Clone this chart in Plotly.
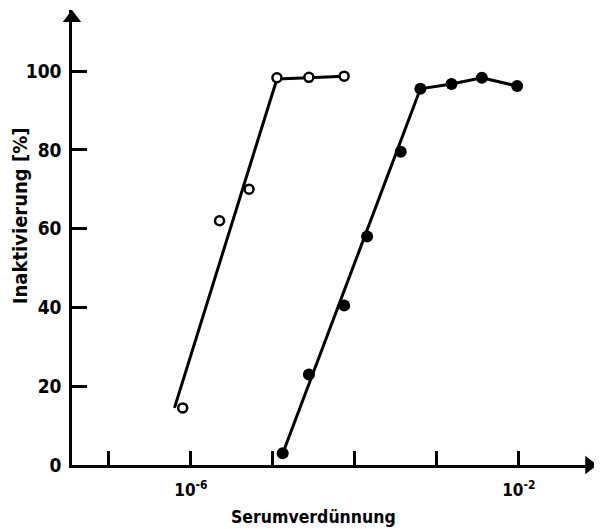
import plotly.graph_objects as go

# Open circles series (log10 dilution, % inactivation)
open_logx = [-6.10, -5.65, -5.29, -4.95, -4.56, -4.13]
open_y = [14.5, 62, 70, 98.3, 98.4, 98.7]
open_line_logx = [-6.20, -4.95, -4.56, -4.13]
open_line_y = [14.5, 98.0, 98.3, 98.7]

# Filled circles series
fill_logx = [-4.88, -4.56, -4.13, -3.85, -3.44, -3.20, -2.82, -2.45, -2.02]
fill_y = [3, 23, 40.5, 58, 79.5, 95.5, 96.7, 98.3, 96.2]
fill_line_logx = [-4.86, -3.20, -2.82, -2.45, -2.02]
fill_line_y = [4, 95.5, 96.7, 98.3, 96.2]

y_ticks = [0, 20, 40, 60, 80, 100]
x_label_exp = [-6, -2]
x_label_text = ["10<sup>-6</sup>", "10<sup>-2</sup>"]
x_minor_exp = [-7, -5, -4, -3]

x_title = "Serumverdünnung"
y_title = "Inaktivierung [%]"

FONT = "DejaVu Sans Condensed, DejaVu Sans, sans-serif"

def p(v):
    return [10 ** e for e in v]

xmin, xmax = -7.45, -1.07
ymin, ymax = 0, 115.5

fig = go.Figure()
fig.add_trace(go.Scatter(x=p(open_line_logx), y=open_line_y, mode="lines",
                         line=dict(color="black", width=3), cliponaxis=False,
                         showlegend=False, hoverinfo="skip"))
fig.add_trace(go.Scatter(x=p(open_logx), y=open_y, mode="markers",
                         marker=dict(symbol="circle", size=9, color="white",
                                     line=dict(color="black", width=2.5)),
                         cliponaxis=False, showlegend=False))
fig.add_trace(go.Scatter(x=p(fill_line_logx), y=fill_line_y, mode="lines",
                         line=dict(color="black", width=3), cliponaxis=False,
                         showlegend=False, hoverinfo="skip"))
fig.add_trace(go.Scatter(x=p(fill_logx), y=fill_y, mode="markers",
                         marker=dict(symbol="circle", size=12, color="black"),
                         cliponaxis=False, showlegend=False))
# axis arrowheads
fig.add_trace(go.Scatter(x=[10 ** (xmax - 0.07)], y=[0], mode="markers",
                         marker=dict(symbol="triangle-right", size=16, color="black"),
                         cliponaxis=False, showlegend=False, hoverinfo="skip"))
fig.add_trace(go.Scatter(x=[10 ** xmin], y=[ymax - 2.0], mode="markers",
                         marker=dict(symbol="triangle-up", size=16, color="black"),
                         cliponaxis=False, showlegend=False, hoverinfo="skip"))

fig.update_layout(
    width=602, height=529,
    margin=dict(l=64, r=15, t=2, b=72, autoexpand=False),
    plot_bgcolor="white", paper_bgcolor="white",
    font=dict(family=FONT, size=18, color="black", weight="bold"),
    xaxis=dict(type="log", range=[xmin, xmax], showgrid=False, zeroline=False,
               automargin=False,
               showline=True, linecolor="black", linewidth=2.5,
               tickmode="array", tickvals=p(x_label_exp), ticktext=x_label_text,
               ticks="inside", ticklen=14, tickwidth=2.5, tickcolor="black",
               tickfont=dict(size=17), ticklabelstandoff=8),
    yaxis=dict(range=[ymin, ymax], showgrid=False, zeroline=False,
               automargin=False,
               showline=True, linecolor="black", linewidth=2.5,
               tickmode="array", tickvals=y_ticks,
               ticks="inside", ticklen=15, tickwidth=2.5, tickcolor="black",
               tickfont=dict(size=19), ticklabelstandoff=4),
)
fig.update_xaxes(minor=dict(tickmode="array", tickvals=p(x_minor_exp), ticks="inside",
                            ticklen=14, tickwidth=2.5, tickcolor="black", showgrid=False))

# axis titles (placed slightly off-centre, as in the original)
fig.add_annotation(text=x_title, xref="paper", yref="paper", x=0.4627, y=-0.114,
                   xanchor="center", yanchor="middle", showarrow=False,
                   font=dict(size=17.5))
fig.add_annotation(text=y_title, xref="paper", yref="paper", x=-0.0994, y=0.547,
                   xanchor="center", yanchor="middle", showarrow=False,
                   textangle=-90, font=dict(size=20))

fig.write_html("out.html")
